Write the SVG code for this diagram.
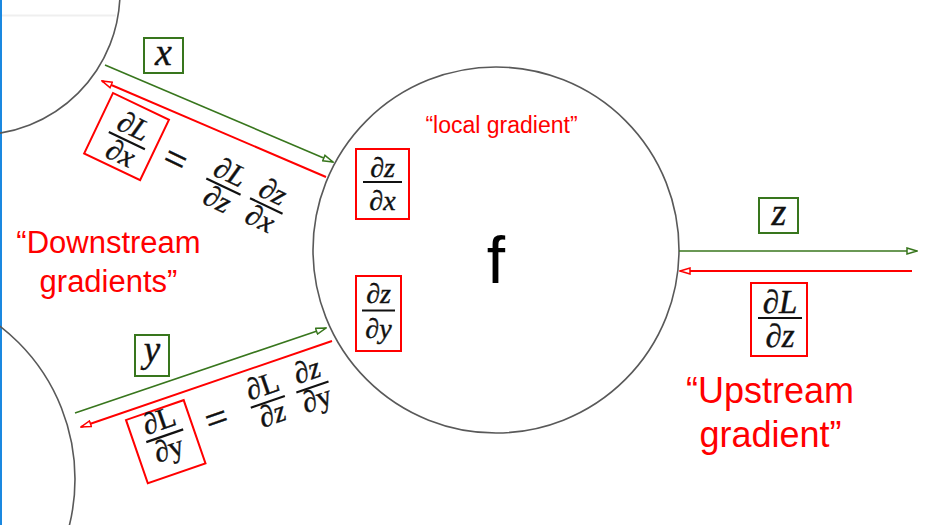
<svg xmlns="http://www.w3.org/2000/svg" width="935" height="525" viewBox="0 0 935 525">
<defs>
<style>
.circ{fill:none;stroke:#595959;stroke-width:1.6}
.gbox{fill:#fff;stroke:#38761d;stroke-width:2}
.rbox{fill:none;stroke:#ff0000;stroke-width:2}
.garr{fill:none;stroke:#38761d;stroke-width:1.6}
.rarr{fill:none;stroke:#ff0000;stroke-width:2}
.lbl{font-family:"Liberation Sans",Arial,sans-serif;fill:#ff0000;text-anchor:middle}
.m{font-family:"Liberation Serif","DejaVu Serif",serif;font-style:italic;fill:#111;stroke:#111;stroke-width:0.4;text-anchor:middle}
.mr{font-family:"Liberation Serif","DejaVu Serif",serif;fill:#111;stroke:#111;stroke-width:0.4;text-anchor:middle}
.bar{stroke:#111;stroke-width:2.2}
</style>
<marker id="ag" viewBox="0 0 12 8" refX="11" refY="4" markerWidth="12" markerHeight="8" markerUnits="userSpaceOnUse" orient="auto">
<path d="M1,1 L11,4 L1,7 Z" fill="#fff" stroke="#38761d" stroke-width="1.5"/>
</marker>
<marker id="ar" viewBox="0 0 12 8" refX="11" refY="4" markerWidth="12" markerHeight="8" markerUnits="userSpaceOnUse" orient="auto">
<path d="M1,1 L11,4 L1,7 Z" fill="#fff" stroke="#ff0000" stroke-width="1.5"/>
</marker>
</defs>
<rect x="0" y="0" width="935" height="525" fill="#fff"/>
<line x1="2" y1="15.5" x2="116" y2="15.5" stroke="#efefef" stroke-width="2"/>
<rect x="0" y="0" width="2" height="525" fill="#1a88e0"/>

<g id="node-input-x">
<circle class="circ" cx="-23" cy="-8" r="143"/>
</g>
<g id="node-input-y">
<circle class="circ" cx="-118" cy="479" r="193"/>
</g>
<g id="node-f">
<circle class="circ" cx="496" cy="250" r="183"/>
<text x="496" y="283" font-family="'Liberation Sans',Arial,sans-serif" font-size="66" fill="#000" text-anchor="middle">f</text>
<text class="lbl" x="501.5" y="133" font-size="23">“local gradient”</text>
<g id="local-dzdx">
<rect class="rbox" x="356" y="149" width="53" height="70"/>
<text class="m" x="382.5" y="177" font-size="28">∂z</text>
<line class="bar" x1="363" y1="182" x2="402" y2="182"/>
<text class="m" x="382.5" y="210" font-size="28">∂x</text>
</g>
<g id="local-dzdy">
<rect class="rbox" x="356" y="276" width="45" height="75"/>
<text class="m" x="378.5" y="303" font-size="28">∂z</text>
<line class="bar" x1="362" y1="310.5" x2="395" y2="310.5"/>
<text class="m" x="378.5" y="338" font-size="28">∂y</text>
</g>
</g>

<g id="connectors">
<line class="garr" x1="105" y1="65" x2="333" y2="162" marker-end="url(#ag)"/>
<line class="rarr" x1="326" y1="177" x2="102" y2="81" marker-end="url(#ar)"/>
<line class="garr" x1="75" y1="413" x2="326" y2="328" marker-end="url(#ag)"/>
<line class="rarr" x1="332" y1="341" x2="81" y2="427" marker-end="url(#ar)"/>
<line class="garr" x1="679" y1="251" x2="917" y2="251" marker-end="url(#ag)"/>
<line class="rarr" x1="912" y1="271" x2="680" y2="271" marker-end="url(#ar)"/>
</g>

<g id="label-x">
<rect class="gbox" x="144" y="38" width="39" height="35"/>
<text class="m" x="163.5" y="65" font-size="38">x</text>
</g>
<g id="label-y">
<rect class="gbox" x="135" y="335" width="34" height="41"/>
<text class="m" x="152" y="362" font-size="37">y</text>
</g>
<g id="label-z">
<rect class="gbox" x="759" y="198" width="39" height="35"/>
<text class="m" x="779" y="225" font-size="38">z</text>
</g>

<g id="upstream-dLdz">
<rect class="rbox" x="751" y="283" width="56" height="73"/>
<text class="m" x="780" y="313" font-size="33">∂L</text>
<line class="bar" x1="758" y1="318" x2="802" y2="318"/>
<text class="m" x="780" y="347" font-size="33">∂z</text>
</g>

<g id="eq-x" transform="translate(113,93) rotate(25.5)">
<rect class="rbox" x="0" y="0" width="62" height="67"/>
<text class="m" x="33" y="31" font-size="30">∂L</text>
<line class="bar" x1="13" y1="37" x2="53" y2="37"/>
<text class="m" x="33" y="61" font-size="30">∂x</text>
<text class="mr" x="85" y="46" font-size="40">=</text>
<text class="m" x="140" y="31" font-size="30">∂L</text>
<line class="bar" x1="121" y1="37" x2="159" y2="37"/>
<text class="m" x="140" y="61" font-size="30">∂z</text>
<text class="m" x="187" y="30" font-size="30">∂z</text>
<line class="bar" x1="169" y1="36" x2="205" y2="36"/>
<text class="m" x="187" y="60" font-size="30">∂x</text>
</g>

<g id="eq-y" transform="translate(126,420) rotate(-19)">
<rect class="rbox" x="0" y="0" width="61" height="67"/>
<text class="mr" x="31" y="21" font-size="30">∂L</text>
<line class="bar" x1="12" y1="27.5" x2="51" y2="27.5"/>
<text class="mr" x="31" y="51" font-size="30">∂y</text>
<text class="mr" x="86" y="41" font-size="40">=</text>
<text class="mr" x="140" y="22" font-size="30">∂L</text>
<line class="bar" x1="122" y1="29" x2="158" y2="29"/>
<text class="m" x="140" y="52" font-size="30">∂z</text>
<text class="m" x="187" y="22" font-size="30">∂z</text>
<line class="bar" x1="170" y1="29.5" x2="204" y2="29.5"/>
<text class="mr" x="187" y="52" font-size="30">∂y</text>
</g>

<g id="label-downstream">
<text class="lbl" x="108.5" y="253" font-size="31">“Downstream</text>
<text class="lbl" x="108.5" y="292" font-size="31">gradients”</text>
</g>
<g id="label-upstream">
<text class="lbl" x="770" y="403" font-size="36">“Upstream</text>
<text class="lbl" x="770.5" y="447" font-size="36">gradient”</text>
</g>
</svg>
